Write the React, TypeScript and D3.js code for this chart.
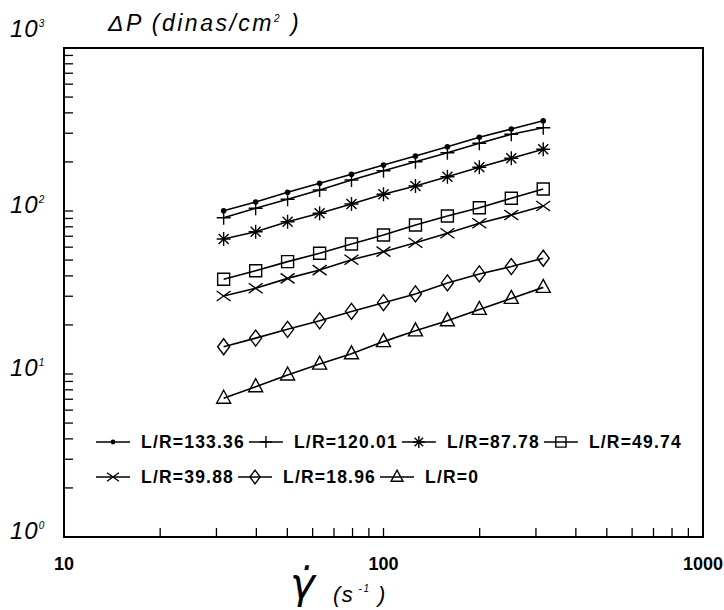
import { useRef, useEffect } from 'react'
import * as d3 from 'd3'

// shear rate (s^-1), same for every series
const shearRates = [31.6, 39.8, 50.1, 63.1, 79.4, 100, 125.9, 158.5, 199.5, 251.2, 316.2]

// pressure drop (dinas/cm2) per L/R
const lr13336 = [100.4, 113.6, 130.2, 147.9, 168.0, 191.5, 217.5, 248.0, 283.2, 318.5, 358.1]
const lr12001 = [91.0, 103.9, 118.0, 134.5, 155.0, 176.7, 200.7, 227.9, 260.2, 295.4, 324.3]
const lr8778 = [67.3, 74.6, 86.0, 96.8, 110.4, 126.6, 142.3, 162.3, 185.4, 210.6, 239.1]
const lr4974 = [38.1, 43.0, 48.9, 55.0, 62.7, 71.3, 82.1, 93.2, 104.8, 119.7, 136.5]
const lr3988 = [30.1, 33.6, 38.6, 43.4, 50.2, 56.3, 63.9, 73.0, 84.1, 94.5, 107.3]
const lr1896 = [14.7, 16.6, 18.8, 21.2, 24.2, 27.4, 31.0, 36.2, 41.1, 45.6, 51.3]
const lr0 = [7.10, 8.36, 9.86, 11.5, 13.3, 15.8, 18.4, 21.2, 24.9, 29.1, 34.0]

const seriesNames = ['L/R=133.36', 'L/R=120.01', 'L/R=87.78', 'L/R=49.74', 'L/R=39.88', 'L/R=18.96', 'L/R=0']
const seriesMarkers = ['dot', 'plus', 'asterisk', 'square', 'cross', 'diamond', 'triangle']
const seriesValues = [lr13336, lr12001, lr8778, lr4974, lr3988, lr1896, lr0]

const xTickLabels = ['10', '100', '1000']
const yDecades = [1, 10, 100, 1000]

const markerPath = (type: string, s = 1) => {
  const p = (v: number) => (v * s).toFixed(2)
  switch (type) {
    case 'plus':
      return `M${p(-7)},0H${p(7)}M0,${p(-7)}V${p(7)}`
    case 'asterisk':
      return `M${p(-7)},0H${p(7)}M0,${p(-7)}V${p(7)}M${p(-5)},${p(-5)}L${p(5)},${p(5)}M${p(-5)},${p(5)}L${p(5)},${p(-5)}`
    case 'square':
      return `M${p(-6)},${p(-6)}H${p(6)}V${p(6)}H${p(-6)}Z`
    case 'cross':
      return `M${p(-7)},${p(-5)}L${p(7)},${p(5)}M${p(-7)},${p(5)}L${p(7)},${p(-5)}`
    case 'diamond':
      return `M0,${p(-8)}L${p(6)},0L0,${p(8)}L${p(-6)},0Z`
    case 'triangle':
      return `M0,${p(-8)}L${p(7)},${p(5)}H${p(-7)}Z`
    default:
      return ''
  }
}

const drawMarker = (g: any, type: string, cx: number, cy: number, s = 1) => {
  if (type === 'dot') {
    g.append('circle')
      .attr('cx', cx)
      .attr('cy', cy)
      .attr('r', 2.8 * s)
      .attr('fill', '#000')
  } else {
    g.append('path')
      .attr('transform', `translate(${cx},${cy})`)
      .attr('d', markerPath(type, s))
      .attr('fill', 'none')
      .attr('stroke', '#000')
      .attr('stroke-width', 1.4)
  }
}

const PressureChart = () => {
  const ref = useRef<SVGSVGElement>(null)

  useEffect(() => {
    const totalWidth = 724,
      totalHeight = 610,
      margin = { left: 64, top: 48, right: 21, bottom: 73 }

    const svg = d3.select(ref.current)
    svg.attr('width', totalWidth).attr('height', totalHeight)
    svg.selectAll('*').remove()

    svg.append('rect')
      .attr('width', totalWidth)
      .attr('height', totalHeight)
      .attr('fill', '#fff')

    // LOG SCALES
    const x = d3.scaleLog()
      .domain([10, 1000])
      .range([margin.left, totalWidth - margin.right])
    const y = d3.scaleLog()
      .domain([1, 1000])
      .range([totalHeight - margin.bottom, margin.top])

    const [x0, x1] = x.range()
    const [y0, y1] = y.range()

    // FRAME
    svg.append('rect')
      .attr('x', x0)
      .attr('y', y1)
      .attr('width', x1 - x0)
      .attr('height', y0 - y1)
      .attr('fill', 'none')
      .attr('stroke', '#000')
      .attr('stroke-width', 2)

    // TICKS (inside, left and bottom only)
    const ticks = svg.append('g').attr('stroke', '#000').attr('stroke-width', 1.3)
    y.ticks().forEach(v => {
      ticks.append('line')
        .attr('x1', x0).attr('x2', x0 + 9)
        .attr('y1', y(v)).attr('y2', y(v))
    })
    x.ticks().forEach(v => {
      ticks.append('line')
        .attr('x1', x(v)).attr('x2', x(v))
        .attr('y1', y0).attr('y2', y0 - 9)
    })

    // Y DECADE LABELS
    const font = '"Liberation Sans", Arial, sans-serif'
    yDecades.forEach(v => {
      const ty = v === 1000 ? y(v) - 11 : y(v) + 2
      const t = svg.append('text')
        .attr('x', 10)
        .attr('y', ty)
        .attr('font-family', font)
        .attr('font-style', 'italic')
        .attr('font-size', 24)
        .attr('letter-spacing', 1)
        .text('10')
      t.append('tspan')
        .attr('dy', -10)
        .attr('font-size', 10)
        .text(String(Math.round(Math.log10(v))))
    })

    // X DECADE LABELS
    xTickLabels.forEach(l => {
      svg.append('text')
        .attr('x', x(+l))
        .attr('y', 570)
        .attr('text-anchor', 'middle')
        .attr('font-family', font)
        .attr('font-weight', 'bold')
        .attr('font-size', 18)
        .text(l)
    })

    // AXIS TITLES
    const yTitle = svg.append('text')
      .attr('x', 108)
      .attr('y', 31)
      .attr('font-family', font)
      .attr('font-style', 'italic')
      .attr('font-size', 23)
      .attr('letter-spacing', 2.5)
      .text('ΔP (dinas/cm')
    yTitle.append('tspan').attr('dy', -9).attr('font-size', 10).text('2')
    yTitle.append('tspan').attr('dy', 9).text('  )')

    svg.append('text')
      .attr('x', 290)
      .attr('y', 598)
      .attr('font-family', '"DejaVu Sans", sans-serif')
      .attr('font-style', 'italic')
      .attr('font-size', 42)
      .text('γ\u0307')
    const xTitle = svg.append('text')
      .attr('x', 333)
      .attr('y', 602)
      .attr('font-family', font)
      .attr('font-style', 'italic')
      .attr('font-size', 22)
      .attr('letter-spacing', 1.5)
      .text('(s')
    xTitle.append('tspan').attr('dy', -10).attr('font-size', 10).text(' -1')
    xTitle.append('tspan').attr('dy', 10).text(' )')

    // SERIES
    const plot = svg.append('g')
    seriesValues.forEach((vals, i) => {
      const pts = vals.map((v, j) => [x(shearRates[j]), y(v)] as [number, number])
      plot.append('path')
        .datum(pts)
        .attr('d', d3.line())
        .attr('fill', 'none')
        .attr('stroke', '#000')
        .attr('stroke-width', 1.6)
      pts.forEach(([cx, cy]) => drawMarker(plot, seriesMarkers[i], cx, cy))
    })

    // LEGEND (two rows, flowing left to right)
    const legend = svg.append('g')
    const rows = [[0, 1, 2, 3], [4, 5, 6]]
    const rowY = [442, 477]
    rows.forEach((row, r) => {
      let cursor = 96
      row.forEach(i => {
        legend.append('line')
          .attr('x1', cursor).attr('x2', cursor + 34)
          .attr('y1', rowY[r]).attr('y2', rowY[r])
          .attr('stroke', '#000')
          .attr('stroke-width', 1.6)
        drawMarker(legend, seriesMarkers[i], cursor + 17, rowY[r], 0.85)
        const t = legend.append('text')
          .attr('x', cursor + 45)
          .attr('y', rowY[r] + 6)
          .attr('font-family', font)
          .attr('font-weight', 'bold')
          .attr('font-size', 17.5)
          .attr('letter-spacing', 1.2)
          .text(seriesNames[i])
        const w = (t.node() as SVGTextElement).getComputedTextLength()
        cursor = cursor + 45 + w + 4
      })
    })
  }, [])

  return <svg ref={ref} style={{ position: 'absolute', left: 0, top: 0 }}></svg>
}

export default function App() {
  return <PressureChart />
}
